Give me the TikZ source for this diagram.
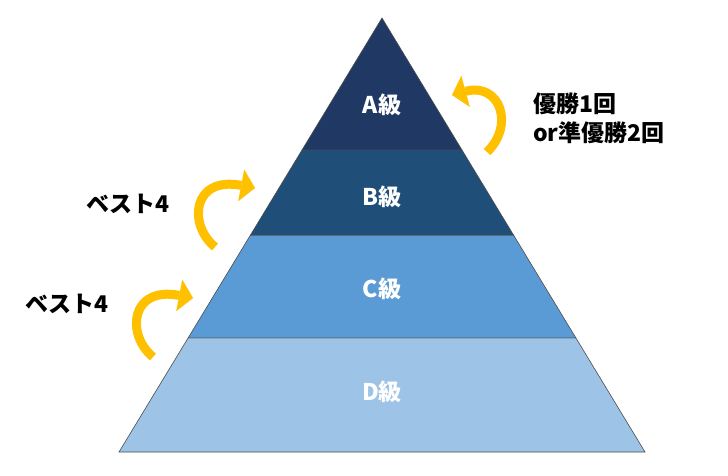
\documentclass[tikz,border=0pt]{standalone}
\usepackage{fontspec}
\usepackage{tikz}
\usetikzlibrary{positioning, arrows.meta, calc}
\usepackage{xcolor}
\newfontfamily\jpfont{Noto Sans CJK JP}
\definecolor{levelA}{HTML}{203864}
\definecolor{levelB}{HTML}{1F4E79}
\definecolor{levelC}{HTML}{5B9BD5}
\definecolor{levelD}{HTML}{9DC3E6}
\definecolor{gold}{HTML}{FFC000}

\begin{document}
\begin{tikzpicture}[x=1pt, y=-1pt, every node/.style={font=\jpfont\bfseries\fontsize{23}{29}\selectfont}]
  \tikzstyle{layer} = [draw=black!70, line width=0.6pt]
  \tikzstyle{level} = [text=white, inner sep=0pt]
  \tikzstyle{note} = [text=black, inner sep=0pt, align=left]
  \tikzstyle{arrow} = [line width=9pt, draw=gold, -{Triangle[width=32pt, length=14pt, line width=0.1pt]}]

  \useasboundingbox (0,0) rectangle (728,476);

  % pyramid corners
  \coordinate (top) at (382,18);
  \coordinate (bl) at (119,452);
  \coordinate (br) at (645,452);
  \coordinate (abl) at ($(top)!0.304!(bl)$);
  \coordinate (abr) at ($(top)!0.304!(br)$);
  \coordinate (bcl) at ($(top)!0.5!(bl)$);
  \coordinate (bcr) at ($(top)!0.5!(br)$);
  \coordinate (cdl) at ($(top)!0.737!(bl)$);
  \coordinate (cdr) at ($(top)!0.737!(br)$);

  \filldraw[layer, fill=levelD] (cdl) -- (cdr) -- (br) -- (bl) -- cycle;
  \filldraw[layer, fill=levelC] (bcl) -- (bcr) -- (cdr) -- (cdl) -- cycle;
  \filldraw[layer, fill=levelB] (abl) -- (abr) -- (bcr) -- (bcl) -- cycle;
  \filldraw[layer, fill=levelA] (top) -- (abr) -- (abl) -- cycle;

  \node (a) [level] at (382,105) {A級};
  \node (b) [level] at (382,197) {B級};
  \node (c) [level] at (382,289) {C級};
  \node (d) [level] at (382,392) {D級};

  \node (win) [note, anchor=west] at (533,118) {優勝1回\\or準優勝2回};
  \node (best1) [note] at (128,204) {ベスト4};
  \node (best2) [note] at (67,304) {ベスト4};

  % promotion arrows
  \coordinate (wintail) at (487,152);
  \coordinate (winhead) at (452,95);
  \coordinate (b1tail) at (215,247);
  \coordinate (b1head) at (255,188);
  \coordinate (b2tail) at (153,357);
  \coordinate (b2head) at (193,298);

  \draw [arrow] (wintail) .. controls +(28,-27) and +(48,-13) .. (winhead);
  \draw [arrow] (b1tail) .. controls +(-27,-22) and +(-63,-12) .. (b1head);
  \draw [arrow] (b2tail) .. controls +(-27,-22) and +(-63,-12) .. (b2head);
\end{tikzpicture}
\end{document}
